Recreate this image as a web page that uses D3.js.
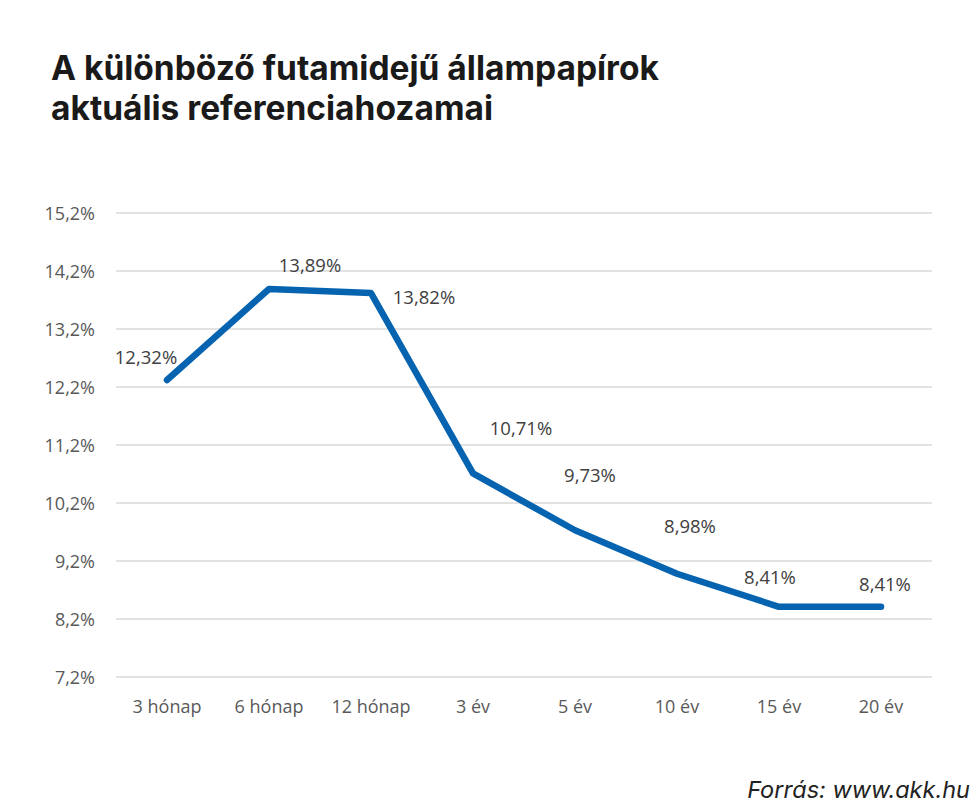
<!DOCTYPE html>
<html><head><meta charset="utf-8">
<script src="https://cdn.jsdelivr.net/npm/d3@7"></script>
<style>
body{margin:0;background:#fff;}
svg{display:block;}
</style></head>
<body>
<script>
const categories = ["3 hónap","6 hónap","12 hónap","3 év","5 év","10 év","15 év","20 év"];
const yields = [12.32, 13.89, 13.82, 10.71, 9.73, 8.98, 8.41, 8.41];
const labels = ["12,32%","13,89%","13,82%","10,71%","9,73%","8,98%","8,41%","8,41%"];
const yTicks = [7.2, 8.2, 9.2, 10.2, 11.2, 12.2, 13.2, 14.2, 15.2];
const yTickLabels = ["7,2%","8,2%","9,2%","10,2%","11,2%","12,2%","13,2%","14,2%","15,2%"];
// label offsets (dx, dy) in pixels relative to point
const labelOffsets = [[-21,-27],[41,-28],[53,0],[48,-49],[15,-59],[13,-52],[-9,-34],[4,-27]];

const W = 980, H = 807;
const svg = d3.select("body").append("svg").attr("width", W).attr("height", H);

const titleFont = "Inter, Lato, sans-serif";
svg.append("text").attr("x", 51).attr("y", 80)
  .attr("font-family", titleFont).attr("font-weight", 700)
  .attr("font-size", 33.5).attr("fill", "#1a1a1a").text("A különböző futamidejű állampapírok");
svg.append("text").attr("x", 51).attr("y", 120)
  .attr("font-family", titleFont).attr("font-weight", 700)
  .attr("font-size", 33.5).attr("fill", "#1a1a1a").text("aktuális referenciahozamai");

const left = 116, right = 932;
const x = d3.scaleBand().domain(categories).range([left, right]);
const y = d3.scaleLinear().domain([7.2, 15.2]).range([677, 213]);

const g = svg.append("g");
g.selectAll("line.grid").data(yTicks).enter().append("line")
  .attr("x1", left).attr("x2", right)
  .attr("y1", d => y(d)).attr("y2", d => y(d))
  .attr("stroke", "#d9d9d9").attr("stroke-width", 1.3);

const tickFont = "'Open Sans', sans-serif";
g.selectAll("text.ytick").data(yTicks).enter().append("text")
  .attr("x", 95).attr("y", d => y(d) + 6.5).attr("text-anchor", "end")
  .attr("font-family", tickFont).attr("font-size", 18).attr("fill", "#595959")
  .text((d, i) => yTickLabels[i]);

g.selectAll("text.xtick").data(categories).enter().append("text")
  .attr("x", d => x(d) + x.bandwidth() / 2).attr("y", 713).attr("text-anchor", "middle")
  .attr("font-family", tickFont).attr("font-size", 18).attr("fill", "#595959")
  .text(d => d);

const line = d3.line().x((d, i) => x(categories[i]) + x.bandwidth() / 2).y(d => y(d));
g.append("path").datum(yields).attr("d", line)
  .attr("fill", "none").attr("stroke", "#0563b0").attr("stroke-width", 6.5)
  .attr("stroke-linejoin", "round").attr("stroke-linecap", "round");

g.selectAll("text.dl").data(yields).enter().append("text")
  .attr("x", (d, i) => x(categories[i]) + x.bandwidth() / 2 + labelOffsets[i][0])
  .attr("y", (d, i) => y(d) + labelOffsets[i][1] + 11)
  .attr("text-anchor", "middle")
  .attr("font-family", tickFont).attr("font-size", 18.5).attr("fill", "#404040")
  .text((d, i) => labels[i]);

svg.append("text").attr("x", 970).attr("y", 798).attr("text-anchor", "end")
  .attr("font-family", titleFont).attr("font-style", "italic").attr("font-weight", 400)
  .attr("font-size", 23.5).attr("fill", "#222").text("Forrás: www.akk.hu");
</script>
</body></html>
